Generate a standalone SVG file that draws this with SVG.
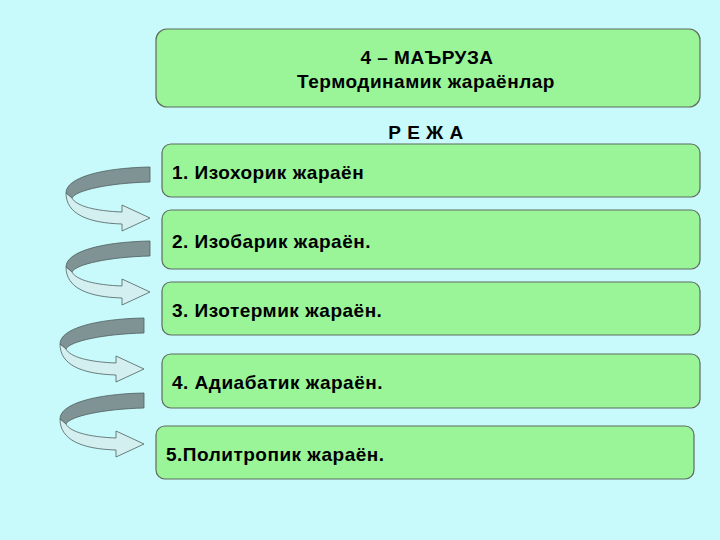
<svg xmlns="http://www.w3.org/2000/svg" width="720" height="540" viewBox="0 0 720 540">
<style>
.b{fill:#99f598;stroke:#5f6b5f;stroke-width:1.2}
.t{font-family:"Liberation Sans",Arial,sans-serif;font-weight:bold;font-size:19px;fill:#000;letter-spacing:0.5px}
.d{fill:#7f9294;stroke:#4f5f60;stroke-width:0.8}
.l{fill:#d3eff0;stroke:#4f5f60;stroke-width:0.8}
</style>
<defs>
<g id="arr">
<path class="d" d="M150,167 C100,168 66,178 66,193 L72,198 C76,190 110,183 150,182 Z"/>
<path class="l" d="M66,193 L72,198 C76,206 95,211 122,212 L122,205 L150,218 L122,231 L122,224 C88,223 66,214 66,193 Z"/>
</g>
</defs>
<rect width="720" height="540" fill="#c8fafb"/>
<g id="connectors">
<use href="#arr"/>
<use href="#arr" transform="translate(0,74)"/>
<use href="#arr" transform="translate(-6,151)"/>
<use href="#arr" transform="translate(-6,226)"/>
</g>
<g id="title"><rect class="b" x="156" y="29" width="544" height="78" rx="11"/>
<text class="t" x="427" y="64" text-anchor="middle">4 – МАЪРУЗА</text>
<text class="t" x="426" y="88" text-anchor="middle">Термодинамик жараёнлар</text></g>
<g id="reja"><text class="t" x="426" y="139" text-anchor="middle" letter-spacing="3">Р Е Ж А</text></g>
<g id="n1"><rect class="b" x="162" y="144" width="538" height="53" rx="9"/><text class="t" x="172" y="179">1. Изохорик жараён</text></g>
<g id="n2"><rect class="b" x="162" y="210" width="538" height="59" rx="9"/><text class="t" x="172" y="248">2. Изобарик жараён.</text></g>
<g id="n3"><rect class="b" x="162" y="282" width="538" height="53" rx="9"/><text class="t" x="172" y="317">3. Изотермик жараён.</text></g>
<g id="n4"><rect class="b" x="162" y="354" width="538" height="54" rx="9"/><text class="t" x="172" y="389">4. Адиабатик жараён.</text></g>
<g id="n5"><rect class="b" x="156" y="426" width="538" height="53" rx="9"/><text class="t" x="166" y="461">5.Политропик жараён.</text></g>
</svg>
